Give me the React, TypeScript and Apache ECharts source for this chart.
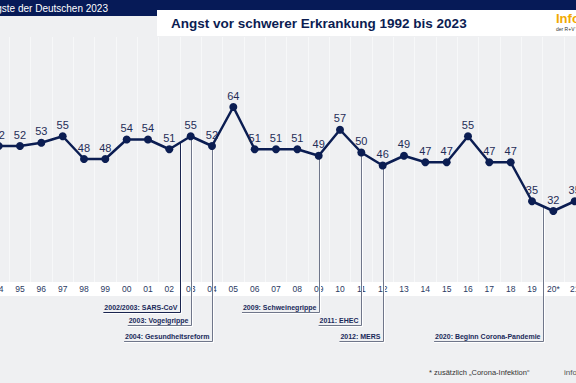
import React, { useEffect, useRef } from 'react';
import * as echarts from 'echarts';

const years = ['94', '95', '96', '97', '98', '99', '00', '01', '02', '03', '04', '05', '06', '07', '08', '09', '10', '11', '12', '13', '14', '15', '16', '17', '18', '19', '20*', '21'];
const values = [52, 52, 53, 55, 48, 48, 54, 54, 51, 55, 52, 64, 51, 51, 51, 49, 57, 50, 46, 49, 47, 47, 55, 47, 47, 35, 32, 35];

const eventLabels = ['2002/2003: SARS-CoV', '2003: Vogelgrippe', '2004: Gesundheitsreform', '2009: Schweinegrippe', '2011: EHEC', '2012: MERS', '2020: Beginn Corona-Pandemie'];
const eventFrom = ['02', '03', '04', '09', '11', '12', '19'];
const eventTo = ['03', '03', '04', '09', '11', '12', '20*'];
const eventLevel = [0, 1, 2, 0, 1, 2, 2];

const titleText = 'Angst vor schwerer Erkrankung 1992 bis 2023';
const headerText = 'Die Ängste der Deutschen 2023';
const footnote = '* zusätzlich „Corona-Infektion“';

const FONT = "'Liberation Sans', Arial, Helvetica, sans-serif";
const NAVY = '#0b1d52';
const LEVEL_Y = [312, 325, 341];
const OFF = 40; // chart canvas extends OFF px beyond the visible frame on each side
const W = 576;
const H = 383;

function measure(text: string, font: string): number {
  const c = document.createElement('canvas').getContext('2d');
  if (!c) return text.length * 4;
  c.font = font;
  return c.measureText(text).width;
}

export default function App() {
  const ref = useRef<HTMLDivElement>(null);
  useEffect(() => {
    const el = ref.current!;
    const chart = echarts.init(el, null, { renderer: 'svg' });
    const yMin = 64 - 175 / 3.25;
    const yMax = 64 + 70 / 3.25;
    chart.setOption({
      animation: false,
      backgroundColor: '#eff0f2',
      grid: { left: OFF - 12, top: 37, width: 597.33, height: 245 },
      xAxis: {
        type: 'category',
        data: years,
        boundaryGap: true,
        axisLine: { show: false },
        axisTick: { show: false },
        axisLabel: { interval: 0, margin: 2, fontSize: 8.5, color: '#2b3a63', fontFamily: FONT },
        splitLine: { show: true, interval: 0, lineStyle: { color: '#f7f8f9', width: 1 } },
      },
      yAxis: { type: 'value', min: yMin, max: yMax, show: false },
      series: [
        {
          type: 'line',
          data: values,
          symbol: 'circle',
          symbolSize: 8,
          z: 3,
          lineStyle: { color: NAVY, width: 2.5 },
          itemStyle: { color: NAVY },
          label: { show: true, position: 'top', distance: 2, fontSize: 11, color: '#1f2d57', fontFamily: FONT },
        },
      ],
    });

    const pix = (cat: string) => {
      const i = years.indexOf(cat);
      return chart.convertToPixel({ gridIndex: 0 }, [i, values[i]]) as number[];
    };

    const graphics: any[] = [];
    graphics.push({ type: 'rect', z: -1, silent: true, shape: { x: 0, y: 282, width: W + 2 * OFF, height: 14 }, style: { fill: '#ffffff' } });

    const annFont = `bold 7px ${FONT}`;
    eventLabels.forEach((lab, k) => {
      const a = pix(eventFrom[k]);
      const b = pix(eventTo[k]);
      const x = Math.round((a[0] + b[0]) / 2) + 0.5;
      const y0 = (a[1] + b[1]) / 2;
      const ly = LEVEL_Y[eventLevel[k]] + 0.5;
      const w = measure(lab, annFont);
      const left = x - 3 - w - 1;
      const dark = k === 0;
      const col = dark ? '#1a2550' : '#6f768a';
      graphics.push({ type: 'polyline', z: 1, silent: true, shape: { points: [[x + 1, y0], [x + 1, ly + 1], [left, ly + 1]] }, style: { stroke: '#ffffff', lineWidth: 1, fill: null } });
      graphics.push({ type: 'polyline', z: 1, silent: true, shape: { points: [[x, y0], [x, ly], [left, ly]] }, style: { stroke: col, lineWidth: 1, fill: null } });
      graphics.push({ type: 'text', z: 5, silent: true, x: x - 3, y: ly - 1.5, style: { text: lab, font: annFont, fill: '#1a2a5a', textAlign: 'right', textVerticalAlign: 'bottom' } });
    });

    // header (coordinates in frame space, shifted by OFF)
    const X = (v: number) => v + OFF;
    graphics.push({ type: 'rect', z: 10, silent: true, shape: { x: 0, y: 0, width: W + 2 * OFF, height: 10 }, style: { fill: '#061a57' } });
    graphics.push({ type: 'rect', z: 10, silent: true, shape: { x: 0, y: 0, width: X(157), height: 16 }, style: { fill: '#061a57' } });
    graphics.push({ type: 'rect', z: 10, silent: true, shape: { x: X(157), y: 10, width: 460, height: 26 }, style: { fill: '#ffffff' } });
    graphics.push({ type: 'text', z: 11, silent: true, x: X(108), y: 8, style: { text: headerText, font: `10px ${FONT}`, fill: '#ffffff', textAlign: 'right', textVerticalAlign: 'middle' } });
    graphics.push({ type: 'text', z: 11, silent: true, x: X(171), y: 23, style: { text: titleText, font: `bold 13.5px ${FONT}`, fill: '#0b1d52', textAlign: 'left', textVerticalAlign: 'middle' } });
    graphics.push({ type: 'text', z: 11, silent: true, x: X(556), y: 18, style: { text: 'Infocenter', font: `bold 13px ${FONT}`, fill: '#f2a900', textAlign: 'left', textVerticalAlign: 'middle' } });
    graphics.push({ type: 'text', z: 11, silent: true, x: X(556), y: 29, style: { text: 'der R+V Versicherung', font: `5px ${FONT}`, fill: '#333333', textAlign: 'left', textVerticalAlign: 'middle' } });
    // footer
    graphics.push({ type: 'text', z: 11, silent: true, x: X(429), y: 372, style: { text: footnote, font: `7.5px ${FONT}`, fill: '#333333', textAlign: 'left', textVerticalAlign: 'middle' } });
    graphics.push({ type: 'text', z: 11, silent: true, x: X(564), y: 372, style: { text: 'infocenter', font: `8px ${FONT}`, fill: '#555555', textAlign: 'left', textVerticalAlign: 'middle' } });

    chart.setOption({ graphic: graphics });
    return () => chart.dispose();
  }, []);
  return (
    <div style={{ position: 'fixed', left: 0, top: 0, width: W, height: H, overflow: 'hidden' }}>
      <div ref={ref} style={{ position: 'absolute', left: -OFF, top: 0, width: W + 2 * OFF, height: H }} />
    </div>
  );
}
